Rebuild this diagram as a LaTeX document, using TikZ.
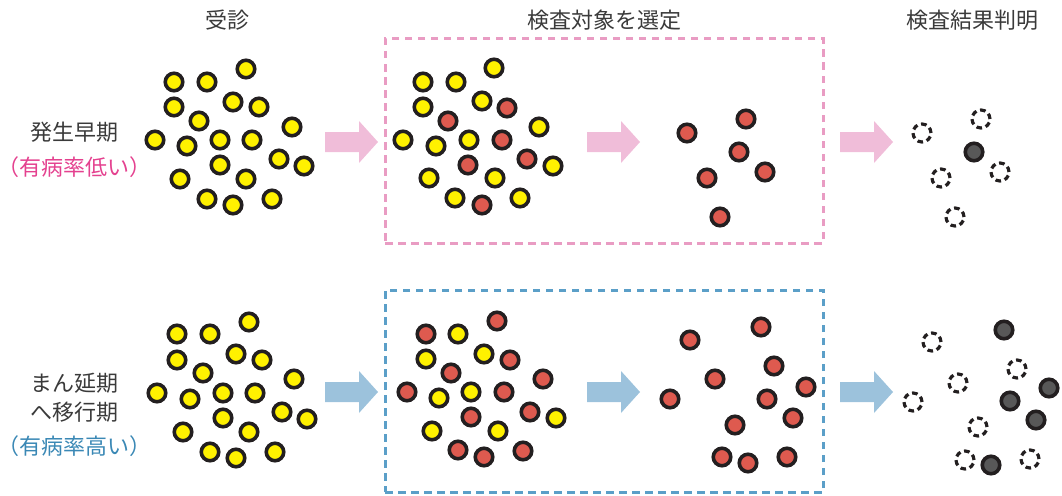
\documentclass[tikz,border=0pt]{standalone}
\usepackage{fontspec}
\newfontfamily\jp{Noto Sans CJK JP}
\definecolor{cyel}{HTML}{FFF100}
\definecolor{cred}{HTML}{DE5A4F}
\definecolor{cgray}{HTML}{585858}
\definecolor{ink}{HTML}{231F20}
\definecolor{pinkbox}{HTML}{E99CC3}
\definecolor{pinkarrow}{HTML}{F0BDD9}
\definecolor{bluebox}{HTML}{5B9FC8}
\definecolor{bluearrow}{HTML}{9CC2DC}
\definecolor{magtext}{HTML}{E4418F}
\definecolor{bluetext}{HTML}{3A88B5}
\definecolor{titletext}{HTML}{3A3A3A}
\tikzset{
  dot/.style={circle, draw=ink, line width=3.6pt, minimum size=17.5pt, inner sep=0pt},
  ydot/.style={dot, fill=cyel},
  rdot/.style={dot, fill=cred},
  gdot/.style={dot, fill=cgray},
  hdot/.style={circle, draw=ink, line width=3.2pt, minimum size=18pt, inner sep=0pt, dash pattern=on 5.6pt off 3.8pt},
  lbl/.style={font=\jp\fontsize{22}{26}\selectfont, text=titletext, inner sep=0pt},
  selbox/.style={rectangle, line width=3pt, dash pattern=on 7.5pt off 5.5pt, minimum width=438pt, inner sep=0pt},
  fatarrow/.pic={\fill[#1] (0,-10) -- (34,-10) -- (34,-21) -- (53,0) -- (34,21) -- (34,10) -- (0,10) -- cycle;}
}
\begin{document}
\begin{tikzpicture}[x=1pt,y=-1pt]
\useasboundingbox (0,0) rectangle (1062,495);
% titles
\node[lbl] (t1) at (227,20) {受診};
\node[lbl] (t2) at (604,20) {検査対象を選定};
\node[lbl] (t3) at (972,20) {検査結果判明};
% row labels
\node[lbl] (r1a) at (74,132) {発生早期};
\node[lbl, text=magtext] (r1b) at (75,167) {（有病率低い）};
\node[lbl] (r2a) at (74,383) {まん延期};
\node[lbl] (r2b) at (74,412) {へ移行期};
\node[lbl, text=bluetext] (r2c) at (75,446) {（有病率高い）};
% boxes
\node[selbox, draw=pinkbox, minimum height=204pt] (box1) at (604,141) {};
\node[selbox, draw=bluebox, minimum height=202pt] (box2) at (604,391) {};
% arrows
\pic (ar1) at (325,142) {fatarrow=pinkarrow};
\pic (ar2) at (587,142) {fatarrow=pinkarrow};
\pic (ar3) at (840,142) {fatarrow=pinkarrow};
\pic (ar4) at (325,392) {fatarrow=bluearrow};
\pic (ar5) at (587,392) {fatarrow=bluearrow};
\pic (ar6) at (840,392) {fatarrow=bluearrow};
% top row: patients
\foreach \x/\y [count=\i] in {246/69,174/82,207/82,233/102,259/107,174/107,199/121,292/127,155/140,187/146,220/140,252/140,279/159,304/166,220/165,180/179,246/179,207/199,233/205,272/199}
  \node[ydot] (a\i) at (\x,\y) {};
\foreach \x/\y [count=\i] in {423/82,456/82,494/68,423/107,482/101,403/140,436/146,469/140,539/127,429/178,495/178,553/166,455/198,520/198}
  \node[ydot] (by\i) at (\x,\y) {};
\foreach \x/\y [count=\i] in {507/108,448/121,502/140,468/165,527/159,482/205}
  \node[rdot] (br\i) at (\x,\y) {};
\foreach \x/\y [count=\i] in {687/133,746/119,739/152,707/178,765/172,720/217}
  \node[rdot] (c\i) at (\x,\y) {};
\foreach \x/\y [count=\i] in {922/133,981/119,941/178,1000/172,955/217}
  \node[hdot] (dh\i) at (\x,\y) {};
\node[gdot] (dg1) at (974,152) {};
% bottom row
\foreach \x/\y [count=\i] in {249/322,177/334,210/334,236/354,262/360,177/360,203/373,294/379,157/393,190/399,223/393,255/393,282/412,307/419,223/418,183/432,249/432,210/452,236/458,275/452}
  \node[ydot] (e\i) at (\x,\y) {};
\foreach \x/\y [count=\i] in {497/321,426/334,510/360,451/373,407/392,504/392,543/379,471/417,530/412,458/450,484/457,523/451}
  \node[rdot] (fr\i) at (\x,\y) {};
\foreach \x/\y [count=\i] in {458/334,426/359,484/354,439/398,471/392,556/418,432/431,498/431}
  \node[ydot] (fy\i) at (\x,\y) {};
\foreach \x/\y [count=\i] in {690/340,761/327,715/379,670/399,774/366,767/399,806/387,793/418,735/425,722/457,748/463,787/457}
  \node[rdot] (g\i) at (\x,\y) {};
\foreach \x/\y [count=\i] in {932/342,958/383,913/402,1017/369,978/427,965/460,1030/459}
  \node[hdot] (hh\i) at (\x,\y) {};
\foreach \x/\y [count=\i] in {1004/330,1049/388,1010/401,1036/420,991/465}
  \node[gdot] (hg\i) at (\x,\y) {};
\end{tikzpicture}
\end{document}
